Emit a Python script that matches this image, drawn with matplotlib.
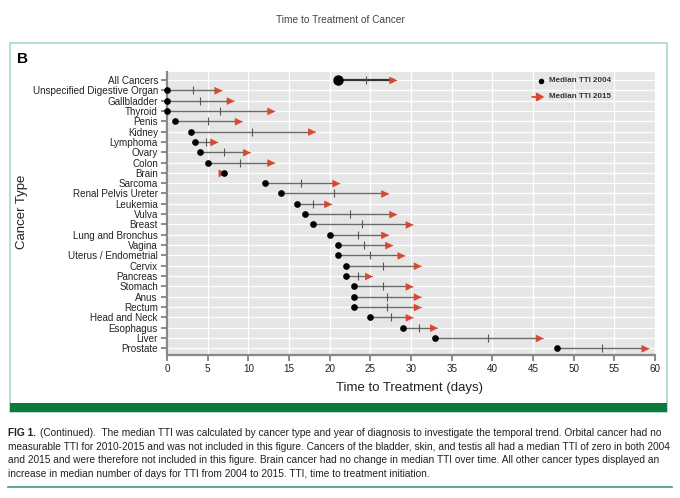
import numpy as np
import matplotlib.pyplot as plt
from matplotlib.patches import Rectangle
from matplotlib.lines import Line2D

plt.rcParams['font.family'] = ['Liberation Sans', 'DejaVu Sans']

cancer_types = ['All Cancers', 'Unspecified Digestive Organ', 'Gallbladder', 'Thyroid',
                'Penis', 'Kidney', 'Lymphoma', 'Ovary', 'Colon', 'Brain', 'Sarcoma',
                'Renal Pelvis Ureter', 'Leukemia', 'Vulva', 'Breast', 'Lung and Bronchus',
                'Vagina', 'Uterus / Endometrial', 'Cervix', 'Pancreas', 'Stomach', 'Anus',
                'Rectum', 'Head and Neck', 'Esophagus', 'Liver', 'Prostate']
tti_2004 = [21, 0, 0, 0, 1, 3, 3.5, 4, 5, 7, 12, 14, 16, 17, 18, 20, 21, 21, 22, 22,
            23, 23, 23, 25, 29, 33, 48]
tti_2015 = [28, 6.5, 8, 13, 9, 18, 6, 10, 13, 7, 21, 27, 20, 28, 30, 27, 27.5, 29, 31, 25,
            30, 31, 31, 30, 33, 46, 59]
x_ticks = [0, 5, 10, 15, 20, 25, 30, 35, 40, 45, 50, 55, 60]

caption_lines = [
    "(Continued).  The median TTI was calculated by cancer type and year of diagnosis to investigate the temporal trend. Orbital cancer had no",
    "measurable TTI for 2010-2015 and was not included in this figure. Cancers of the bladder, skin, and testis all had a median TTI of zero in both 2004",
    "and 2015 and were therefore not included in this figure. Brain cancer had no change in median TTI over time. All other cancer types displayed an",
    "increase in median number of days for TTI from 2004 to 2015. TTI, time to treatment initiation.",
]

RED = '#d9482e'
SEG = '#6b6b6b'
W, H = 680, 498

fig = plt.figure(figsize=(6.8, 4.98), dpi=100)

# frame around the panel
fig.patches.append(Rectangle((10 / W, 1 - 412 / H), 657 / W, 369 / H, transform=fig.transFigure,
                             fill=False, edgecolor='#a9d6c9', linewidth=1.2))
fig.patches.append(Rectangle((10 / W, 1 - 412 / H), 657 / W, 9 / H, transform=fig.transFigure,
                             facecolor='#0b7a3c', edgecolor='none'))
fig.add_artist(Line2D([8 / W, 672 / W], [1 - 487 / H] * 2, color='#3f9a7a', linewidth=1.2))

fig.text(0.5, 1 - 20 / H, 'Time to Treatment of Cancer', ha='center', va='center',
         fontsize=7.3, color='#444444')
fig.text(17 / W, 1 - 59 / H, 'B', ha='left', va='center', fontsize=11, fontweight='bold')

ax = fig.add_axes([167 / W, 1 - 355 / H, 488 / W, (355 - 71.7) / H])
ax.set_facecolor('#e6e6e6')
ypos = np.arange(len(cancer_types))

for x in x_ticks:
    ax.axvline(x, color='white', linewidth=0.9, zorder=0)
for y in ypos:
    ax.axhline(y, color='white', linewidth=0.9, zorder=0)

for i, (a, b) in enumerate(zip(tti_2004, tti_2015)):
    big = i == 0
    ax.hlines(i, a, b, color='#333333' if big else SEG, linewidth=1.6 if big else 1.0, zorder=2)
    if b > a:
        ax.plot((a + b) / 2, i, marker='|', color='#555555', markersize=6, mew=0.8, zorder=3)
    ax.annotate('', xy=(b + 0.3, i + 0.05), xytext=(b + 0.25, i + 0.05),
                arrowprops=dict(arrowstyle='-|>,head_length=0.8,head_width=0.4',
                                color=RED, lw=0.5, mutation_scale=6, shrinkA=0, shrinkB=0),
                zorder=3)
    ax.plot(a, i, 'o', color='black', markersize=6.5 if big else 3.8, zorder=4, clip_on=False)

# legend
ax.plot(46, 0.1, 'o', color='black', markersize=3)
ax.text(47, 0.1, 'Median TTI 2004', fontsize=5.8, fontweight='bold', va='center', color='#333333')
ax.annotate('', xy=(46.4, 1.65), xytext=(44.9, 1.65),
            arrowprops=dict(arrowstyle='-|>,head_length=0.6,head_width=0.35',
                            color=RED, lw=1.3, mutation_scale=7, shrinkA=0, shrinkB=0))
ax.text(47, 1.65, 'Median TTI 2015', fontsize=5.8, fontweight='bold', va='center', color='#333333')

ax.set_xlim(0, 60)
ax.set_ylim(len(cancer_types) - 1 + 0.65, -0.8)
ax.set_xticks(x_ticks)
ax.set_yticks(ypos)
ax.set_yticklabels(cancer_types)
ax.tick_params(axis='both', colors='#777777', labelcolor='#222222', labelsize=7.1,
               length=4, width=1.2, pad=2.5)
for s in ['top', 'right']:
    ax.spines[s].set_visible(False)
for s in ['left', 'bottom']:
    ax.spines[s].set_color('#888888')
    ax.spines[s].set_linewidth(1.6)

fig.text(410 / W, 1 - 388 / H, 'Time to Treatment (days)', ha='center', va='center',
         fontsize=9.5, color='#222222')
fig.text(22 / W, 1 - 212 / H, 'Cancer Type', ha='center', va='center', rotation=90,
         fontsize=9.5, color='#222222')

# caption
fig.canvas.draw()
renderer = fig.canvas.get_renderer()
cap_font = ['Liberation Sans', 'DejaVu Sans']
fig_label = fig.text(8 / W, 1 - 433 / H, 'FIG 1.', fontsize=7.3, fontweight='bold',
                     va='center', family=cap_font, color='#222222')
lab_w = fig_label.get_window_extent(renderer).width
for k, line in enumerate(caption_lines):
    x0 = 8 + (lab_w + 4 if k == 0 else 0)
    fig.text(x0 / W, 1 - (433 + 13.7 * k) / H, line, fontsize=7.3, va='center',
             family=cap_font, color='#222222')

fig.savefig('out.png', dpi=100)
